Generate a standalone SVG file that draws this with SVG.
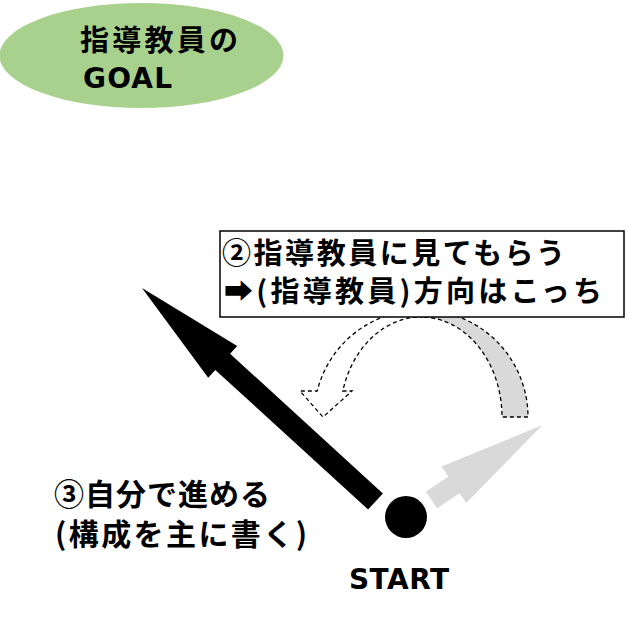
<svg xmlns="http://www.w3.org/2000/svg" width="628" height="626" viewBox="0 0 628 626">
  <style>
    .jp { font-family: "Noto Sans CJK JP", "Noto Sans", sans-serif; font-weight: bold; fill: #000; }
    .lat { font-family: "DejaVu Sans", "Noto Sans", sans-serif; font-weight: bold; fill: #000; }
    .dash { stroke: #000; stroke-width: 1.3; stroke-dasharray: 4 3; }
  </style>
  <rect width="628" height="626" fill="#fff"/>

  <g id="goal">
    <ellipse cx="141.5" cy="55.5" rx="142" ry="52.5" fill="#A9D18E"/>
    <text class="jp" x="80" y="51" font-size="29" textLength="158" lengthAdjust="spacing">指導教員の</text>
    <text class="lat" x="83" y="88" font-size="28" textLength="89" lengthAdjust="spacing">GOAL</text>
  </g>

  <g id="connectors">
    <!-- gray curved band (start of U-turn) -->
    <path class="dash" fill="#D9D9D9" d="M421,310 A107,107 0 0 1 528,417 L502,417 A81,100 0 0 0 421,317 Z"/>
    <!-- dashed white curved arrow -->
    <path class="dash" fill="#fff" d="M421,310 A107,107 0 0 0 317.2,391 L300,391 L323,417 L352,391 L342.8,391 A81,100 0 0 1 421,317 Z"/>
    <!-- black arrow: own direction -->
    <polygon fill="#000" points="382.9,493.4 230.1,353.7 237.2,345.9 142,288 208.2,377.7 215.3,369.9 368.1,509.6"/>
    <!-- light gray arrow -->
    <polygon fill="#D9D9D9" points="425.9,491.7 448.3,476.6 441.6,466.6 542.5,425 466.2,503.1 459.5,493.2 437.1,508.3"/>
  </g>

  <g id="advice">
    <rect x="220" y="231" width="404" height="86" fill="#fff" stroke="#000" stroke-width="1.5"/>
    <text class="jp" x="222" y="264" font-size="29" textLength="343" lengthAdjust="spacing">②指導教員に見てもらう</text>
    <text class="jp" x="224" y="302" font-size="29" textLength="378" lengthAdjust="spacing">➡(指導教員)方向はこっち</text>
  </g>

  <g id="self">
    <text class="jp" x="54" y="505" font-size="30" textLength="216" lengthAdjust="spacing">③自分で進める</text>
    <text class="jp" x="55" y="545" font-size="30" textLength="252" lengthAdjust="spacing">(構成を主に書く)</text>
  </g>

  <g id="start">
    <circle cx="406" cy="517" r="21" fill="#000"/>
    <text class="lat" x="349" y="589" font-size="28" textLength="100" lengthAdjust="spacing">START</text>
  </g>
</svg>
